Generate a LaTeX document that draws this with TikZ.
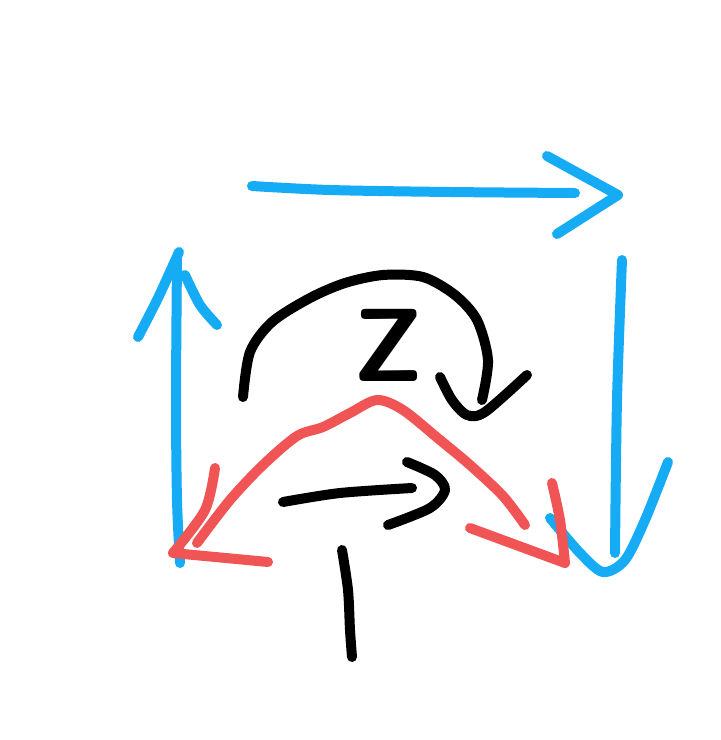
\documentclass[tikz,border=0pt]{standalone}
\definecolor{penblue}{RGB}{22,171,245}
\definecolor{penred}{RGB}{240,84,84}
\tikzset{
  pen/.style={line width=5pt, line cap=round, line join=round},
  bluepen/.style={pen, draw=penblue},
  redpen/.style={pen, draw=penred},
  blackpen/.style={pen, draw=black}
}
\begin{document}
\begin{tikzpicture}[x=0.5pt,y=-0.5pt]
  \useasboundingbox (0,0) rectangle (720,740);

  \draw[bluepen] plot[smooth] coordinates {(252,186) (330,190) (450,192) (575,193)};
  \draw[bluepen] (547,156) -- (618,195) -- (557,234);

  \draw[bluepen] plot[smooth] coordinates {(177,258) (176,400) (177,500) (180,563)};
  \draw[bluepen] plot[smooth] coordinates {(138,337) (158,298) (179,252)};
  \draw[bluepen] plot[smooth] coordinates {(185,275) (200,305) (217,325)};

  \draw[bluepen] plot[smooth] coordinates {(622,260) (617,400) (615,553)};
  \draw[bluepen] plot[smooth] coordinates {(550,518) (580,553) (603,572) (625,560) (645,520) (668,462)};

  \node[font=\sffamily\bfseries\fontsize{52}{52}\selectfont] (z) at (388,345) {Z};

  \draw[blackpen] plot[smooth] coordinates {(243,397) (250,352) (272,322) (310,298) (345,283) (383,275) (423,277) (455,295) (477,320) (488,360) (482,400)};
  \draw[blackpen] plot[smooth] coordinates {(440,377) (452,400) (467,415) (485,412) (527,375)};

  \draw[redpen] plot[smooth] coordinates {(197,543) (230,500) (263,465) (297,436) (323,427) (350,413) (377,400) (403,410) (440,440) (470,465) (503,496) (525,525)};
  \draw[redpen] plot[smooth] coordinates {(215,468) (205,510) (173,553)} -- (268,562);
  \draw[redpen] (470,528) -- (565,563);
  \draw[redpen] plot[smooth] coordinates {(552,483) (560,520) (565,563)};

  \draw[blackpen] plot[smooth] coordinates {(283,502) (340,493) (412,488)};
  \draw[blackpen] plot[smooth] coordinates {(407,462) (435,475) (445,490) (430,508) (388,525)};
  \draw[blackpen] plot[smooth] coordinates {(342,550) (348,590) (350,630) (352,657)};
\end{tikzpicture}
\end{document}
